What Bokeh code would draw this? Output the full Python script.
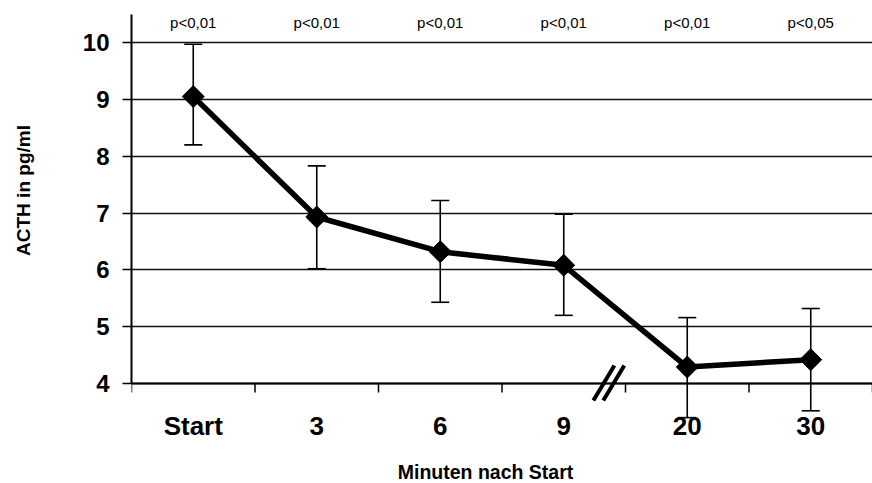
import math
from bokeh.plotting import figure
from bokeh.layouts import row
from bokeh.models import Range1d, FixedTicker, ColumnDataSource, Whisker, TeeHead
from bokeh.embed import file_html
from bokeh.resources import INLINE
from bokeh.core.properties import value

# ---- data ----
categories = ["Start", "3", "6", "9", "20", "30"]
acth_mean = [9.05, 6.93, 6.32, 6.08, 4.29, 4.42]
acth_upper = [9.97, 7.83, 7.22, 6.98, 5.16, 5.32]
acth_lower = [8.20, 6.02, 5.43, 5.20, 3.40, 3.52]
p_values = ["p<0,01", "p<0,01", "p<0,01", "p<0,01", "p<0,01", "p<0,05"]
y_ticks = [4, 5, 6, 7, 8, 9, 10]
x_title = "Minuten nach Start"
y_title = "ACTH in pg/ml"

FONT = "Liberation Sans"
x_pos = [i + 0.5 for i in range(len(categories))]
Y_BASE = y_ticks[0]          # where the x axis sits
PX = 56.83                   # pixels per y unit
PXX = 123.5                  # pixels per category
Y_TOP = 10.74
H = 483
TITLE_W = 40
Y_BOTTOM = Y_TOP - H / PX    # frame reaches the bottom of the page

# ---- narrow strip holding the y title ----
t = figure(width=TITLE_W, height=H, x_range=Range1d(0, TITLE_W), y_range=Range1d(0, H),
           output_backend="svg", toolbar_location=None,
           min_border_left=0, min_border_right=0, min_border_top=0, min_border_bottom=0)
t.axis.visible = False
t.grid.visible = False
t.outline_line_color = None
t.text(x=[22.5], y=[H - 190], text=[y_title], angle=math.pi / 2,
       text_font=value(FONT), text_font_size="19px", text_font_style="bold",
       text_color="black", text_align="center", text_baseline="middle")

# ---- main chart ----
p = figure(width=872 - TITLE_W, height=H,
           x_range=Range1d(0, len(categories)), y_range=Range1d(Y_BOTTOM, Y_TOP),
           output_backend="svg", toolbar_location=None,
           min_border_left=131 - TITLE_W, min_border_right=0, min_border_top=0, min_border_bottom=0)
p.outline_line_color = None
p.background_fill_color = "white"
p.border_fill_color = "white"
p.xaxis.visible = False

# y axis
p.yaxis.ticker = FixedTicker(ticks=y_ticks)
p.yaxis.bounds = (Y_BASE, 10.5)
p.yaxis.major_tick_in = 0
p.yaxis.major_tick_out = 9
p.yaxis.major_tick_line_width = 1.5
p.yaxis.major_tick_line_color = "black"
p.yaxis.minor_tick_line_color = None
p.yaxis.axis_line_color = "black"
p.yaxis.axis_line_width = 2
p.yaxis.major_label_text_font = FONT
p.yaxis.major_label_text_font_size = "24px"
p.yaxis.major_label_text_font_style = "bold"
p.yaxis.major_label_text_color = "black"
p.yaxis.major_label_standoff = 13

p.xgrid.grid_line_color = None
p.ygrid.grid_line_color = "#111111"
p.ygrid.grid_line_width = 1.5

# x axis line and boundary ticks
bounds_x = list(range(len(categories) + 1))
p.segment(x0=[0], y0=[Y_BASE], x1=[len(categories)], y1=[Y_BASE],
          line_color="black", line_width=2)
p.segment(x0=bounds_x, y0=[Y_BASE] * len(bounds_x), x1=bounds_x,
          y1=[Y_BASE - 9 / PX] * len(bounds_x), line_color="black", line_width=1.5)

# category labels and x title
p.text(x=x_pos, y=[Y_BASE - 42 / PX] * len(categories), text=categories,
       text_font=value(FONT), text_font_size="26px", text_font_style="bold",
       text_color="black", text_align="center", text_baseline="alphabetic")
p.text(x=[(485 - 131) / PXX], y=[Y_BASE - 88 / PX], text=[x_title],
       text_font=value(FONT), text_font_size="19.5px", text_font_style="bold",
       text_color="black", text_align="center", text_baseline="alphabetic")

# error bars
src = ColumnDataSource(dict(x=x_pos, upper=acth_upper, lower=acth_lower))
whisk = Whisker(base="x", upper="upper", lower="lower", source=src,
                line_color="black", line_width=1.6,
                upper_head=TeeHead(size=18, line_color="black", line_width=1.6),
                lower_head=TeeHead(size=18, line_color="black", line_width=1.6))
p.add_layout(whisk)

# mean line and diamonds
p.line(x_pos, acth_mean, line_width=5.5, line_color="black")
p.scatter(x_pos, acth_mean, marker="square", size=15.5, angle=math.pi / 4,
          fill_color="black", line_color="black")

# significance labels
P_Y = 10.35
p.text(x=x_pos, y=[P_Y] * len(p_values), text=p_values,
       text_font=value(FONT), text_font_size="15px", text_color="black",
       text_align="center", text_baseline="middle")

# axis break mark between "9" and "20"
b = categories.index("20")
p.segment(x0=[b - 0.26, b - 0.18], y0=[Y_BASE - 17 / PX] * 2,
          x1=[b - 0.09, b - 0.01], y1=[Y_BASE + 18 / PX] * 2,
          line_color="black", line_width=4)

layout = row(t, p, spacing=0)
open("out.html", "w").write(file_html(layout, INLINE))
